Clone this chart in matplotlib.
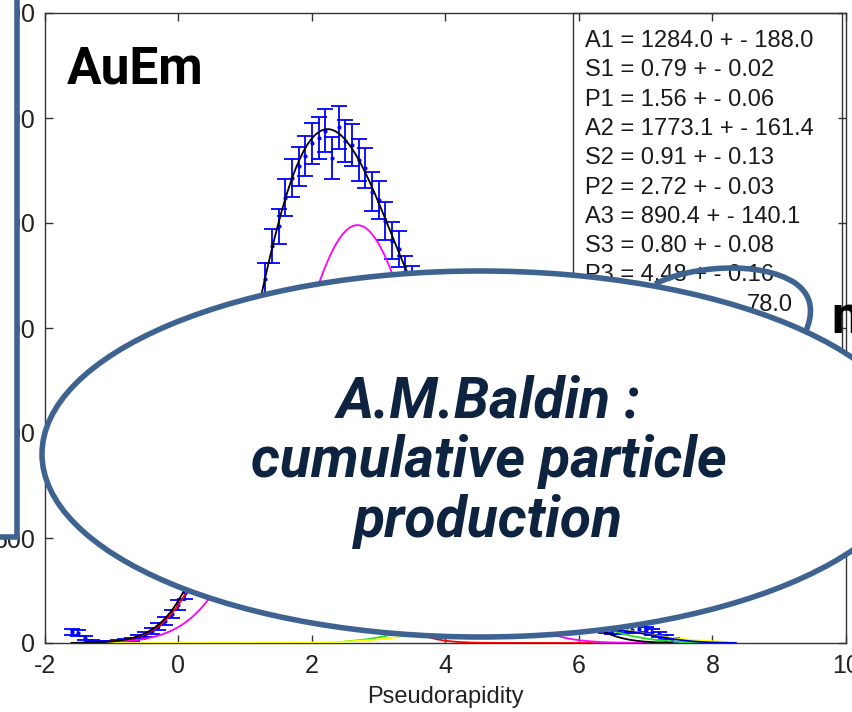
import numpy as np
import matplotlib
matplotlib.use("Agg")
import matplotlib.pyplot as plt
from matplotlib.patches import Ellipse, Rectangle, PathPatch
from matplotlib.path import Path

plt.rcParams["axes.unicode_minus"] = False

# ---- measured pseudorapidity distribution (bin centres, counts, errors) ----
eta = np.round(np.arange(-1.6, 7.41, 0.1), 1)
counts = [52, 46, 24, 9, 6, 5, 6, 7, 11, 18,
          27, 40, 58, 80, 104, 138, 180, 236, 318, 402,
          498, 612, 720, 858, 1002, 1140, 1290, 1452, 1580, 1732,
          1890, 1985, 2120, 2215, 2270, 2318, 2380, 2405, 2440, 2310,
          2455, 2390, 2370, 2300, 2262, 2150, 2110, 2010, 1915, 1878,
          1760, 1712, 1650, 1566, 1502, 1455, 1400, 1360, 1318, 1262,
          1205, 1150, 1080, 1010, 958, 870, 790, 718, 640, 560,
          488, 415, 350, 292, 238, 190, 152, 120, 96, 78,
          66, 60, 58, 62, 64, 66, 60, 54, 42, 30, 14]
errors = [15, 14, 10, 6, 5, 4, 5, 5, 6, 8,
          9, 11, 13, 16, 18, 21, 24, 28, 32, 36,
          40, 44, 48, 52, 56, 60, 64, 68, 72, 76,
          80, 84, 88, 92, 94, 96, 98, 100, 102, 100,
          102, 100, 100, 98, 96, 94, 92, 90, 88, 86,
          84, 82, 80, 78, 76, 74, 74, 72, 72, 70,
          68, 66, 64, 62, 60, 58, 56, 52, 50, 48,
          44, 42, 38, 36, 32, 28, 26, 22, 20, 18,
          16, 16, 15, 15, 15, 15, 14, 14, 12, 10, 8]

# ---- three-gaussian fit parameters ----
amp = [1284.0, 1773.1, 890.4]
amp_err = [188.0, 161.4, 140.1]
sig = [0.79, 0.91, 0.80]
sig_err = [0.02, 0.13, 0.08]
pos = [1.56, 2.72, 4.48]
pos_err = [0.06, 0.03, 0.16]

# ---- additional model curves: amplitude, centre, width, eta range, colour ----
model_amp = [1990.0, 230.0, 130.0, 60.0]
model_pos = [2.68, 4.95, 5.30, 6.50]
model_sig = [1.05, 0.94, 1.15, 0.60]
model_lo = [-1.0, 2.5, -1.6, 6.4]
model_hi = [7.0, 8.1, 8.2, 8.35]
model_col = ["#FF00FF", "#22DD22", "#FFFF00", "#0000CC"]

xticks = [-2, 0, 2, 4, 6, 8, 10]
yticks = [0, 500, 1000, 1500, 2000, 2500, 3000]


def gauss(x, a, p, s):
    return a * np.exp(-(x - p) ** 2 / (2.0 * s ** 2))


W, H = 853, 712
fig = plt.figure(figsize=(W / 100, H / 100), dpi=100)
fig.patch.set_facecolor("white")

ax = fig.add_axes([45 / W, 69 / H, 801 / W, 630 / H])
ax.set_xlim(-2, 10)
ax.set_ylim(0, 3000)
ax.set_xticks(xticks)
ax.set_yticks(yticks)
tick_font = "Liberation Sans"
ax.tick_params(direction="in", length=6, width=1.0, top=True, right=True,
               color="#333333", labelcolor="#222222", labelsize=18)
ax.tick_params(axis="x", pad=8)
ax.tick_params(axis="y", pad=7)
for lab in ax.get_xticklabels() + ax.get_yticklabels():
    lab.set_fontfamily(tick_font)
for sp in ax.spines.values():
    sp.set_color("#333333")
    sp.set_linewidth(1.0)
ax.set_xlabel("Pseudorapidity", fontsize=17, family=tick_font,
              color="#222222", labelpad=6)

# data with error bars
ax.errorbar(eta, counts, yerr=errors, fmt=".", color="#0000FF", ms=4,
            elinewidth=1.3, capsize=5.5, capthick=1.3, zorder=2)

# component curves
x1 = np.linspace(-1.6, 6.3, 400)
ax.plot(x1, gauss(x1, amp[0], pos[0], sig[0]), color="#FF0000", lw=1.3, zorder=3)
for a, p, s, lo, hi, c in zip(model_amp, model_pos, model_sig,
                              model_lo, model_hi, model_col):
    xx = np.linspace(lo, hi, 400)
    ax.plot(xx, gauss(xx, a, p, s), color=c, lw=1.3, zorder=3)

# total fit
xf = np.linspace(-1.6, 7.4, 600)
total = sum(gauss(xf, a, p, s) for a, p, s in zip(amp, pos, sig))
ax.plot(xf, total, color="black", lw=1.3, zorder=4)

# ---- overlay in pixel coordinates ----
ov = fig.add_axes([0, 0, 1, 1])
ov.set_xlim(0, W)
ov.set_ylim(H, 0)
ov.axis("off")

# fit-result box
ov.add_patch(Rectangle((573, 13), 269, 347, fill=False, ec="#333333",
                       lw=1.0, zorder=1))
box_lines = []
for i in range(3):
    box_lines.append(f"A{i+1} = {amp[i]:.1f} + - {amp_err[i]:.1f}")
    box_lines.append(f"S{i+1} = {sig[i]:.2f} + - {sig_err[i]:.2f}")
    box_lines.append(f"P{i+1} = {pos[i]:.2f} + - {pos_err[i]:.2f}")
for i, line in enumerate(box_lines):
    ov.text(585, 47 + 29.3 * i, line, fontsize=17, family="Liberation Sans",
            color="#1a1a1a", va="baseline", ha="left", zorder=1)
ov.text(747, 47 + 29.3 * 9, "78.0", fontsize=17, family="Liberation Sans",
        color="#1a1a1a", va="baseline", ha="left", zorder=1)

# panel label
ov.text(67, 83, "AuEm", fontsize=37, family="Roboto", weight="bold",
        color="black", va="baseline", ha="left", zorder=2)
ov.text(831, 333, "n", fontsize=37, family="Roboto", weight="bold",
        color="black", va="baseline", ha="left", zorder=2)

blue = "#3E6390"
# neighbouring frame on the left, white inside
ov.add_patch(Rectangle((-20, -20), 37.5, 557, fc="white", ec="none", zorder=3))
ov.plot([17.5, 17.5, -5], [-5, 537, 537], color=blue, lw=4.0,
        solid_joinstyle="miter", zorder=3)

# callout bubble
ov.add_patch(Ellipse((480, 454), 876, 366, fc="white", ec=blue, lw=4.0,
                     zorder=5))
tail = Path([(655, 284), (690, 266), (760, 260), (795, 283),
             (815, 297), (812, 316), (806, 331)],
            [Path.MOVETO, Path.CURVE4, Path.CURVE4, Path.CURVE4,
             Path.CURVE4, Path.CURVE4, Path.CURVE4])
ov.add_patch(PathPatch(tail, fill=False, ec=blue, lw=4.0, zorder=5))

navy = "#0E2340"
for txt, yb in [("A.M.Baldin :", 418), ("cumulative particle", 477),
                ("production", 537)]:
    ov.text(489, yb, txt, fontsize=41, family="Roboto", weight="bold",
            style="italic", color=navy, ha="center", va="baseline", zorder=6)

fig.savefig("out.png", dpi=100)
